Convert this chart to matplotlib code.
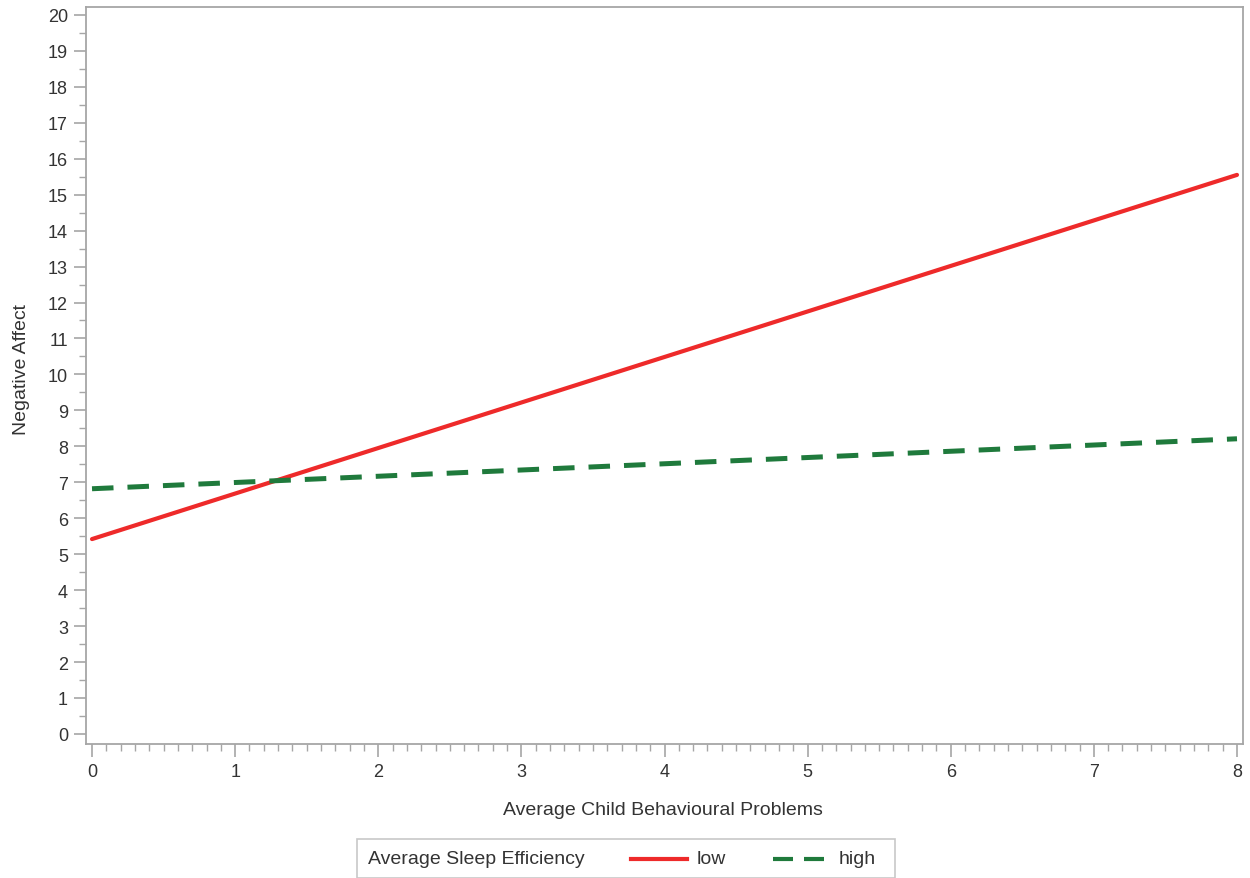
import matplotlib
matplotlib.use("Agg")
import matplotlib.pyplot as plt
from matplotlib.patches import Rectangle
from matplotlib.lines import Line2D
import numpy as np

plt.rcParams['font.family'] = ['Liberation Sans', 'DejaVu Sans']

x_vals = [0, 8]
low_vals = [5.42, 15.55]
high_vals = [6.82, 8.21]
x_ticks = list(range(0, 9))
y_ticks = list(range(0, 21))
legend_title = "Average Sleep Efficiency"
series_labels = ["low", "high"]
x_label = "Average Child Behavioural Problems"
y_label = "Negative Affect"

red = '#EE2A2A'
green = '#1F7A3C'
axis_gray = '#A6A6A6'
text_col = '#333333'

fig = plt.figure(figsize=(12.5, 8.79), dpi=100)
ax = fig.add_axes([86/1250, 1-745/879, 1157/1250, 737/879])

ax.plot(x_vals, low_vals, color=red, lw=3.0, solid_capstyle='round', zorder=3)
ax.plot(x_vals, high_vals, color=green, lw=3.6, linestyle=(0, (4.3, 2.8)), zorder=3)

ax.set_xlim(-0.042, 8.042)
ax.set_ylim(-0.28, 20.22)
ax.set_xticks(x_ticks)
ax.set_yticks(y_ticks)
ax.set_xticks(np.arange(0, 8.01, 0.1), minor=True)
ax.set_yticks(np.arange(0, 20.01, 0.5), minor=True)
ax.tick_params(axis='both', which='major', colors=axis_gray, labelcolor=text_col,
               labelsize=13, length=9, width=1.2)
ax.tick_params(axis='both', which='minor', colors=axis_gray, length=5, width=1.0)
ax.tick_params(axis='x', which='major', pad=5)
ax.tick_params(axis='y', which='major', pad=4)
for s in ax.spines.values():
    s.set_color(axis_gray)
    s.set_linewidth(1.3)

fig.text(663/1250, 1-811/879, x_label, ha='center', va='center', fontsize=14, color=text_col)
fig.text(22/1250, 1-370/879, y_label, ha='center', va='center', fontsize=14,
         color=text_col, rotation=90)

# legend box
fig.patches.append(Rectangle((357/1250, 0), (895-357)/1250, (879-840)/879,
                             transform=fig.transFigure, facecolor='white',
                             edgecolor='#C8C8C8', lw=1.2))
ly = 1-860/879
fig.text(368/1250, ly, legend_title, ha='left', va='center', fontsize=14, color=text_col)
fig.add_artist(Line2D([631/1250, 687/1250], [ly, ly], transform=fig.transFigure,
                      color=red, lw=3.0))
fig.text(697/1250, ly, series_labels[0], ha='left', va='center', fontsize=14, color=text_col)
fig.add_artist(Line2D([773/1250, 824/1250], [ly, ly], transform=fig.transFigure,
                      color=green, lw=3.0, linestyle=(0, (4.8, 2.64))))
fig.text(839/1250, ly, series_labels[1], ha='left', va='center', fontsize=14, color=text_col)

fig.savefig("out.png", dpi=100)
